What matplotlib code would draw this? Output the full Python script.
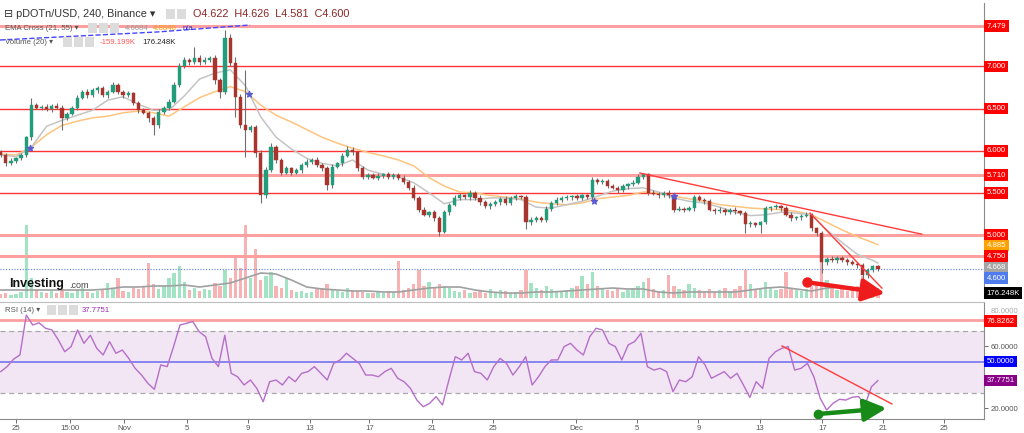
import numpy as np
import matplotlib
matplotlib.use("Agg")
import matplotlib.pyplot as plt
from matplotlib.patches import Rectangle

plt.rcParams['font.family'] = ['Liberation Sans', 'DejaVu Sans']

# one candle every 8h, first candle at chart day -1 (day 0 = 25 Oct, late Nov gap squeezed like the source)
first_open = 5.98
closes = [5.95, 5.85, 5.88, 5.91, 5.95, 6.16, 6.54, 6.51, 6.52, 6.49,
          6.53, 6.51, 6.39, 6.44, 6.51, 6.63, 6.70, 6.66, 6.72, 6.74,
          6.66, 6.70, 6.78, 6.70, 6.66, 6.68, 6.57, 6.48, 6.45, 6.39,
          6.30, 6.46, 6.51, 6.58, 6.78, 7.00, 7.08, 7.05, 7.10, 7.05,
          7.08, 7.10, 6.84, 6.70, 7.34, 7.04, 6.64, 6.30, 6.25, 6.28,
          5.97, 5.47, 5.77, 6.04, 5.89, 5.74, 5.79, 5.74, 5.77, 5.83,
          5.87, 5.89, 5.83, 5.79, 5.59, 5.81, 5.85, 5.94, 6.01, 5.98,
          5.79, 5.69, 5.71, 5.68, 5.70, 5.72, 5.69, 5.71, 5.68, 5.63,
          5.56, 5.44, 5.30, 5.24, 5.27, 5.20, 5.04, 5.27, 5.36, 5.44,
          5.47, 5.45, 5.50, 5.44, 5.39, 5.34, 5.37, 5.39, 5.43, 5.38,
          5.44, 5.46, 5.45, 5.15, 5.18, 5.20, 5.18, 5.31, 5.38, 5.42,
          5.44, 5.45, 5.46, 5.44, 5.47, 5.45, 5.65, 5.63, 5.64, 5.58,
          5.56, 5.53, 5.58, 5.60, 5.62, 5.69, 5.72, 5.50, 5.49, 5.47,
          5.50, 5.47, 5.30, 5.31, 5.30, 5.32, 5.45, 5.42, 5.40, 5.30,
          5.28, 5.30, 5.27, 5.30, 5.28, 5.26, 5.13, 5.14, 5.12, 5.15,
          5.32, 5.33, 5.34, 5.32, 5.24, 5.20, 5.21, 5.23, 5.24, 5.08,
          5.02, 4.68, 4.72, 4.70, 4.73, 4.70, 4.68, 4.66, 4.64, 4.52,
          4.58, 4.63, 4.60]
# wicks beyond the body, in cents
wick_up = [3, 2, 3, 2, 2, 2, 9, 3, 2, 3,
           2, 3, 3, 2, 2, 3, 2, 3, 2, 3,
           3, 2, 3, 2, 2, 3, 2, 2, 3, 2,
           2, 3, 2, 3, 3, 4, 3, 2, 13, 3,
           3, 2, 3, 2, 9, 4, 7, 3, 66, 3,
           3, 4, 4, 5, 3, 2, 3, 2, 3, 2,
           3, 2, 3, 2, 3, 3, 2, 3, 4, 3,
           2, 3, 2, 2, 3, 2, 3, 2, 2, 3,
           2, 3, 2, 3, 2, 3, 2, 3, 2, 3,
           3, 2, 3, 2, 3, 2, 2, 3, 2, 3,
           2, 3, 2, 2, 3, 2, 2, 3, 2, 3,
           2, 3, 2, 3, 2, 2, 4, 3, 2, 2,
           3, 2, 3, 2, 3, 3, 2, 2, 3, 2,
           2, 3, 2, 3, 2, 2, 3, 2, 2, 3,
           2, 3, 2, 2, 3, 2, 2, 3, 2, 2,
           3, 2, 3, 2, 2, 3, 2, 2, 3, 2,
           2, 3, 2, 3, 2, 2, 3, 2, 2, 3,
           3, 2, 2]
wick_dn = [3, 3, 2, 3, 2, 3, 3, 2, 3, 2,
           3, 2, 15, 3, 2, 3, 2, 3, 2, 3,
           2, 3, 2, 3, 3, 2, 3, 3, 2, 5,
           11, 3, 2, 3, 2, 3, 2, 3, 2, 3,
           2, 3, 5, 8, 3, 3, 24, 3, 32, 3,
           5, 9, 3, 2, 3, 3, 2, 3, 2, 3,
           2, 3, 2, 3, 6, 3, 2, 3, 2, 3,
           3, 2, 3, 2, 3, 2, 3, 2, 3, 2,
           3, 3, 3, 2, 3, 3, 5, 2, 3, 2,
           3, 2, 3, 2, 3, 2, 3, 2, 3, 2,
           2, 3, 2, 8, 3, 2, 3, 2, 3, 2,
           3, 2, 3, 2, 3, 2, 3, 2, 3, 2,
           2, 3, 2, 3, 2, 2, 3, 3, 2, 3,
           2, 3, 3, 2, 3, 2, 3, 2, 3, 2,
           3, 2, 3, 2, 3, 2, 11, 3, 2, 10,
           2, 3, 2, 3, 2, 3, 2, 3, 2, 3,
           3, 13, 3, 2, 3, 2, 3, 2, 3, 8,
           3, 2, 3]
# volume, thousands
volumes = [120, 150, 90, 120, 180, 2190, 600, 240, 180, 150,
           210, 150, 270, 180, 150, 240, 300, 180, 150, 210,
           240, 450, 270, 600, 210, 180, 300, 270, 330, 1050,
           420, 270, 360, 600, 750, 960, 480, 240, 300, 210,
           270, 240, 450, 360, 840, 600, 1260, 900, 2190, 600,
           1470, 540, 660, 780, 360, 300, 600, 240, 180, 210,
           150, 180, 270, 300, 420, 240, 210, 180, 300, 240,
           210, 180, 150, 150, 180, 150, 210, 180, 1110, 240,
           300, 420, 840, 360, 480, 300, 420, 360, 300, 210,
           180, 240, 150, 180, 210, 150, 270, 180, 240, 210,
           150, 180, 240, 840, 450, 300, 240, 360, 270, 210,
           180, 240, 300, 360, 660, 420, 780, 360, 300, 240,
           210, 270, 180, 240, 300, 360, 480, 600, 270, 210,
           240, 690, 360, 270, 240, 420, 300, 240, 210, 270,
           180, 240, 300, 210, 270, 360, 840, 420, 240, 300,
           480, 300, 240, 270, 780, 300, 240, 210, 270, 360,
           450, 1080, 540, 300, 240, 270, 210, 300, 360, 660,
           420, 240, 176.248]

# indicator lines read once per chart day
line_days = list(range(-1, 57)) + [56.33]
ema_fast = [5.95, 5.93, 6.04, 6.29, 6.36, 6.42, 6.48, 6.60, 6.64, 6.55,
            6.48, 6.48, 6.65, 6.85, 6.92, 6.96, 6.77, 6.40, 6.16, 6.02,
            5.91, 5.85, 5.82, 5.89, 5.77, 5.72, 5.69, 5.62, 5.50, 5.37,
            5.42, 5.42, 5.44, 5.44, 5.42, 5.33, 5.32, 5.36, 5.40, 5.46,
            5.52, 5.55, 5.56, 5.51, 5.44, 5.40, 5.38, 5.33, 5.27, 5.23,
            5.24, 5.27, 5.26, 5.24, 5.06, 4.91, 4.77, 4.70, 4.6684]
ema_slow = [5.96, 5.95, 6.04, 6.19, 6.30, 6.35, 6.39, 6.41, 6.45, 6.47,
            6.45, 6.41, 6.52, 6.63, 6.70, 6.76, 6.70, 6.54, 6.42, 6.34,
            6.25, 6.16, 6.09, 6.03, 5.98, 5.94, 5.89, 5.82, 5.68, 5.58,
            5.51, 5.50, 5.47, 5.45, 5.43, 5.39, 5.37, 5.36, 5.38, 5.43,
            5.45, 5.47, 5.51, 5.50, 5.46, 5.43, 5.40, 5.36, 5.34, 5.32,
            5.31, 5.30, 5.28, 5.24, 5.15, 5.06, 4.98, 4.91, 4.8846]
vol_ma = [240, 240, 240, 240, 240, 240, 240, 270, 330, 330,
          360, 360, 390, 330, 390, 450, 600, 750, 720, 540,
          330, 270, 240, 210, 210, 180, 180, 240, 300, 330,
          330, 240, 180, 150, 150, 180, 180, 210, 240, 270,
          300, 270, 270, 180, 150, 180, 180, 180, 180, 240,
          300, 330, 270, 210, 300, 330, 300, 270, 270]

# RSI(14), evenly spaced from the first to the last candle
rsi = [43.6, 46.8, 51.6, 54.3, 80.0, 73.6, 75.0, 71.5, 70.4, 64.0,
       56.4, 59.7, 70.4, 61.8, 67.0, 58.6, 54.3, 62.9, 55.4, 57.5,
       52.1, 45.7, 41.4, 36.0, 32.2, 47.9, 46.8, 59.7, 73.6, 74.7,
       75.8, 69.3, 66.1, 52.1, 46.8, 67.0, 42.5, 40.3, 35.0, 38.2,
       32.8, 24.2, 37.1, 38.2, 35.0, 40.3, 37.1, 42.5, 43.6, 46.8,
       42.5, 38.2, 48.9, 51.1, 55.4, 52.1, 48.9, 41.4, 41.4, 40.3,
       43.6, 45.7, 39.3, 37.1, 32.8, 25.3, 21.0, 23.2, 27.5, 22.1,
       38.2, 53.2, 51.1, 55.4, 43.6, 42.5, 38.2, 46.8, 52.1, 48.9,
       41.4, 46.8, 53.2, 35.0, 40.3, 46.8, 51.1, 51.1, 59.7, 61.8,
       57.5, 54.3, 66.1, 71.5, 70.4, 61.8, 59.7, 51.1, 60.8, 62.9,
       68.2, 46.8, 44.6, 45.7, 43.6, 30.7, 38.2, 37.1, 40.3, 53.2,
       47.9, 39.3, 41.4, 43.6, 39.3, 42.5, 35.0, 27.0, 37.1, 32.8,
       52.1, 56.4, 58.6, 59.7, 44.6, 45.7, 48.9, 40.3, 26.4, 18.9,
       23.2, 25.8, 25.3, 27.1, 27.5, 22.1, 33.9, 37.7751]

cross_days = [0.92, 15.2, 37.8, 43.0]
cross_prices = [6.03, 6.67, 5.40, 5.46]

levels = [7.479, 7.0, 6.5, 6.0, 5.71, 5.5, 5.0, 4.75]
level_strong = [False, True, True, True, False, True, False, False]

tick_days = [0, 3.53, 7.06, 11.18, 15.16, 19.2, 23.1, 27.2, 31.2,
             36.6, 40.6, 44.6, 48.6, 52.7, 56.7, 60.65]
tick_labels = ['25', '15:00', 'Nov', '5', '9', '13', '17', '21', '25',
               'Dec', '5', '9', '13', '17', '21', '25']

last_close = 4.600
rsi_mark = 76.8262

GREEN = '#239c7c'
RED = '#a8342e'

W, H = 1024, 433


def fx(x):
    return x / W


def fy(y):
    return 1 - y / H


fig = plt.figure(figsize=(W / 100, H / 100), dpi=100)
fig.patch.set_facecolor('white')

# ---------- price panel ----------
ax = fig.add_axes([0, fy(298), fx(984), (298 - 3) / H])
vax = ax.twinx()
ax.set_zorder(vax.get_zorder() + 1)
ax.patch.set_visible(False)

c = np.array(closes)
o = np.array([first_open] + closes[:-1])
days = -1 + np.arange(len(c)) / 3
rising = c >= o
hi = np.maximum(o, c) + np.array(wick_up) / 100
lo = np.minimum(o, c) - np.array(wick_dn) / 100
body = np.where(np.abs(c - o) < 0.008, 0.008, c - o)
cols = np.where(rising, GREEN, RED)

vax.bar(days, volumes, width=0.22, color=np.where(rising, '#a2e3c4', '#f7b3b3'))
vax.plot(line_days, vol_ma, color='#a0a0a0', lw=1.2)
vax.set_ylim(0, 8850)
vax.axis('off')

for lv, strong in zip(levels, level_strong):
    if strong:
        ax.axhline(lv, color='#ff3434', lw=1.0, zorder=1)
    else:
        ax.axhline(lv, color='#ffa0a0', lw=2.2, zorder=1)
ax.axhline(last_close, color='#5a7ff0', lw=0.8, ls=(0, (1, 1.5)), zorder=1)

ax.plot(line_days, ema_slow, color='#ffc47e', lw=1.1, zorder=2)
ax.plot(line_days, ema_fast, color='#c4c4c4', lw=1.1, zorder=2)
ax.vlines(days, lo, hi, color='#6e6e6e', lw=0.8, zorder=3)
ax.bar(days, body, bottom=o, width=0.22, color=cols, edgecolor=cols, lw=0.3, zorder=4)
ax.scatter(cross_days, cross_prices, marker='*', s=20, color='#5a5ad2', zorder=5)
ax.plot([-1.05, 9.2, 15.3], [7.313, 7.408, 7.491], ls='--', color='#4646ff', lw=1, zorder=2)

# trend lines and arrow drawn on the chart
ax.plot([40.78, 59.2], [5.735, 5.01], color='#ff3b3b', lw=1, zorder=5)
ax.plot([51.9, 56.6], [5.26, 4.37], color='#ff3b3b', lw=1, zorder=5)
ax.annotate('', xy=(56.8, 4.31), xytext=(51.7, 4.44),
            arrowprops=dict(arrowstyle='-|>,head_length=0.9,head_width=0.45', color='#ee1c1c',
                            lw=3.2, shrinkA=0, shrinkB=0, mutation_scale=15), zorder=6)
ax.plot([51.7], [4.44], 'o', color='#ee1c1c', ms=6.5, zorder=6)

ax.set_xlim(-1.046, 63.27)
ax.set_ylim(4.253, 7.752)
ax.set_xticks([])
ax.set_yticks([])
for s in ['left', 'top', 'bottom']:
    ax.spines[s].set_visible(False)
ax.spines['right'].set_color('#8a8a8a')


def tag(axis, y, text, bg, fg='white'):
    axis.annotate(text, xy=(1, y), xycoords=('axes fraction', 'data'), xytext=(2, 0),
                  textcoords='offset points', ha='left', va='center', fontsize=5.6, color=fg,
                  bbox=dict(boxstyle='square,pad=0.3', fc=bg, ec='none'), annotation_clip=False,
                  zorder=10)


for lv in [7.479, 7.0, 6.5, 6.0, 5.71, 5.5, 5.0]:
    tag(ax, lv, '%.3f' % lv, '#ff0000')
tag(ax, 4.874, '4.885', '#ffa200')
tag(ax, 4.75, '4.750', '#ff0000')
tag(ax, 4.61, '4.668', '#a5a5a5')
tag(ax, 4.49, '4.600', '#4f7cec')
tag(ax, 4.31, '176.248K', '#000000')

# ---------- RSI panel ----------
rax = fig.add_axes([0, fy(419), fx(984), (419 - 302) / H])
rsi_days = np.linspace(days[0], days[-1], len(rsi))
rax.axhspan(30, 70, color='#f2e5f4', lw=0)
rax.axhline(70, color='#a8a8a8', lw=0.9, ls=(0, (4, 3)))
rax.axhline(30, color='#a8a8a8', lw=0.9, ls=(0, (4, 3)))
rax.axhline(50, color='#6a6af0', lw=1.1)
rax.axhline(rsi_mark, color='#ffa0a0', lw=2)
rax.plot(rsi_days, rsi, color='#b56fc8', lw=1)
rax.plot([50.07, 57.25], [60.1, 22.8], color='#ff3b3b', lw=1)
rax.annotate('', xy=(56.9, 20.0), xytext=(52.4, 16.3),
             arrowprops=dict(arrowstyle='-|>,head_length=0.9,head_width=0.45', color='#178a17',
                             lw=3.2, shrinkA=0, shrinkB=0, mutation_scale=15),
             annotation_clip=False)
rax.plot([52.4], [16.3], 'o', color='#178a17', ms=6, clip_on=False)

rax.set_xlim(-1.046, 63.27)
rax.set_ylim(13.1, 88.4)
rax.yaxis.tick_right()
rax.set_yticks([20, 60, 80])
rax.set_yticklabels(['20.0000', '60.0000', '80.0000'])
rax.set_xticks(tick_days)
rax.set_xticklabels(tick_labels)
rax.tick_params(axis='both', labelsize=5.6, colors='#555555', length=3, width=0.6)
rax.tick_params(axis='y', pad=2)
rax.tick_params(axis='x', pad=1.5)
rax.get_yticklabels()[2].set_va('bottom')
rax.get_yticklabels()[2].set_color('#aaaaaa')
rax.spines['left'].set_visible(False)
rax.spines['top'].set_color('#bdbdbd')
rax.spines['right'].set_color('#8a8a8a')
rax.spines['bottom'].set_color('#8a8a8a')

tag(rax, rsi_mark - 0.8, '76.8262', '#ff0000')
tag(rax, 50, '50.0000', '#0000ff')
tag(rax, 37.7751, '37.7751', '#880088')

# ---------- header texts ----------
def icons(x0, y0, n):
    for k in range(n):
        fig.patches.append(Rectangle((fx(x0 + 11 * k), fy(y0 + 5)), 9 / W, 10 / H,
                                     transform=fig.transFigure, fc='#dcdcdc', ec='none'))


fig.text(fx(4), fy(14), '\u229f pDOTn/USD, 240, Binance \u25be', fontsize=7.8, color='#333333', va='center')
icons(166, 14, 2)
fig.text(fx(193), fy(14), 'O4.622  H4.626  L4.581  C4.600', fontsize=7.8, color='#8b2525', va='center')

fig.text(fx(5), fy(28), 'EMA Cross (21, 55) \u25be', fontsize=5.6, color='#555555', va='center')
icons(88, 28, 3)
fig.text(fx(125), fy(28), '4.6684', fontsize=5.6, color='#9a9a9a', va='center')
fig.text(fx(153), fy(28), '4.8846', fontsize=5.6, color='#ff9800', va='center')
fig.text(fx(183), fy(28), 'n/a', fontsize=5.6, color='#3030cc', va='center')

fig.text(fx(5), fy(42), 'Volume (20) \u25be', fontsize=5.6, color='#555555', va='center')
icons(63, 42, 3)
fig.text(fx(100), fy(42), '-159.199K', fontsize=5.6, color='#ff5a5a', va='center')
fig.text(fx(142), fy(42), '176.248K', fontsize=5.6, color='#222222', va='center')

fig.text(fx(5), fy(310), 'RSI (14) \u25be', fontsize=5.6, color='#555555', va='center')
icons(47, 310, 3)
fig.text(fx(82), fy(310), '37.7751', fontsize=5.6, color='#9c27b0', va='center')

fig.text(fx(9), fy(284), 'Investing', fontsize=9, fontweight='bold', color='#111111', va='center')
fig.text(fx(69), fy(286), '.com', fontsize=6.5, color='#444444', va='center')

fig.savefig('out.png', dpi=100)
